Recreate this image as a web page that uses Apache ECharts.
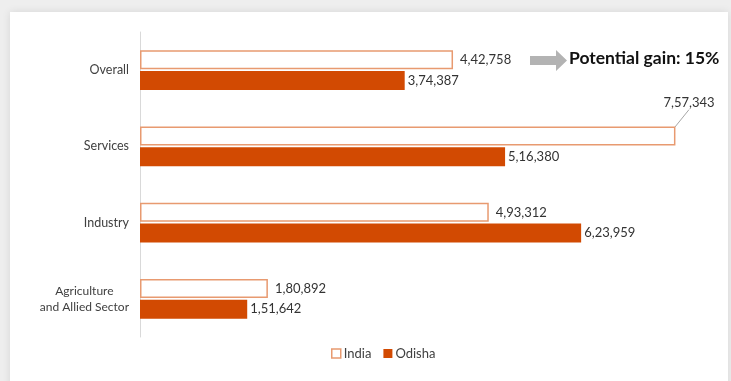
<!DOCTYPE html>
<html>
<head>
<meta charset="utf-8">
<script src="https://cdn.jsdelivr.net/npm/echarts@6/dist/echarts.min.js"></script>
<style>
  html, body { margin: 0; padding: 0; background: #eeeeee; }
  #card { position: absolute; left: 10px; top: 12px; width: 718px; height: 380px; background: #ffffff;
          box-shadow: 0 0 8px rgba(0,0,0,0.10); }
  #chart { position: absolute; left: 0; top: 0; width: 731px; height: 381px; }
</style>
</head>
<body>
<div id="card"></div>
<div id="chart"></div>
<script>
// GVA per worker by sector (Rs.)
const categories = ['Overall', 'Services', 'Industry', 'Agriculture\nand Allied Sector'];
const indiaValues = [442758, 757343, 493312, 180892];
const odishaValues = [374387, 516380, 623959, 151642];
const seriesNames = ['India', 'Odisha'];
const calloutText = 'Potential gain: 15%';

const ORANGE = '#D24A02';
const ORANGE_LIGHT = '#E89A70';
const FONT = 'Lato, "Open Sans", sans-serif';

// Indian digit grouping: 4,42,758
function inr(n) {
  const s = String(Math.round(n));
  const last3 = s.slice(-3);
  const rest = s.slice(0, -3);
  return rest ? rest.replace(/\B(?=(\d{2})+(?!\d))/g, ',') + ',' + last3 : last3;
}

// The longest bar's label is lifted above its bar with a guide line
const CALLOUT_INDEX = 1;
const indiaData = indiaValues.map((v, i) => i === CALLOUT_INDEX
  ? { value: v, labelLine: { show: true, lineStyle: { color: '#a6a6a6', width: 1 } } }
  : v);

const chart = echarts.init(document.getElementById('chart'), null, { renderer: 'canvas' });

const labelStyle = {
  show: true,
  position: 'right',
  distance: 7,
  color: '#333333',
  fontFamily: FONT,
  fontSize: 13,
  formatter: p => inr(p.value)
};

chart.setOption({
  animation: false,
  backgroundColor: 'transparent',
  grid: { left: 140, right: 25.4, top: 32, bottom: 44, containLabel: false },
  xAxis: {
    type: 'value', min: 0, max: 800000,
    axisLine: { show: false }, axisTick: { show: false },
    axisLabel: { show: false }, splitLine: { show: false }
  },
  yAxis: {
    type: 'category',
    inverse: true,
    data: categories,
    axisLine: { show: true, lineStyle: { color: '#d9d9d9', width: 1 } },
    axisTick: { show: false },
    axisLabel: {
      margin: 11,
      color: '#404040',
      fontFamily: FONT,
      fontSize: 12.5,
      lineHeight: 16,
      formatter: v => v.indexOf('\n') >= 0
        ? v.split('\n').map(l => '{c|' + l + '}').join('\n')
        : v,
      rich: { c: { align: 'center', color: '#404040', fontFamily: FONT, fontSize: 12, lineHeight: 16 } }
    }
  },
  legend: {
    bottom: 16,
    left: 326,
    itemWidth: 9,
    itemHeight: 9,
    itemGap: 12,
    textStyle: { color: '#404040', fontFamily: FONT, fontSize: 13, padding: [0, 0, 0, -2] },
    data: [
      { name: seriesNames[0], icon: 'rect', itemStyle: { color: '#ffffff', borderColor: ORANGE_LIGHT, borderWidth: 1.5 } },
      { name: seriesNames[1], icon: 'rect' }
    ]
  },
  series: [
    {
      name: seriesNames[0],
      type: 'bar',
      data: indiaData,
      barWidth: 19,
      barGap: '8%',
      itemStyle: { color: '#ffffff', borderColor: ORANGE_LIGHT, borderWidth: 1.5 },
      label: labelStyle,
      labelLayout: p => p.dataIndex === CALLOUT_INDEX ? { dx: -19, dy: -33 } : {},
      labelLine: { show: false }
    },
    {
      name: seriesNames[1],
      type: 'bar',
      data: odishaValues,
      barWidth: 19,
      itemStyle: { color: ORANGE },
      label: Object.assign({}, labelStyle, { distance: 3 })
    }
  ],
  graphic: [
    {
      type: 'polygon',
      shape: { points: [[530, 56], [556, 56], [556, 50], [567, 60.5], [556, 71], [556, 65], [530, 65]] },
      style: { fill: '#b3b3b3' }
    },
    {
      type: 'text',
      left: 569, top: 49,
      style: { text: calloutText, fill: '#111111', font: 'bold 17.5px ' + FONT }
    }
  ]
});
</script>
</body>
</html>
